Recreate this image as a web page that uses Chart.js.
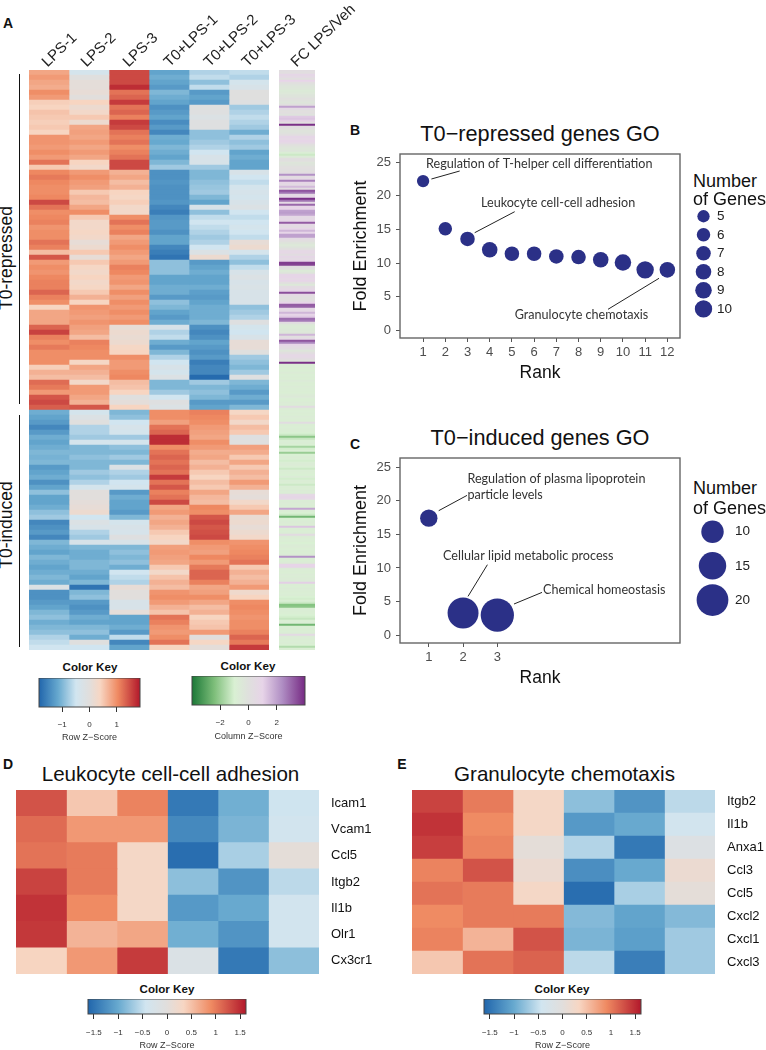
<!DOCTYPE html>
<html>
<head>
<meta charset="utf-8">
<script src="https://cdn.jsdelivr.net/npm/chart.js@4/dist/chart.umd.min.js"></script>
<style>
  body { margin: 0; background: #fff; width: 766px; height: 1050px; position: relative; overflow: hidden; font-family: "Liberation Sans", sans-serif; color: #111; }
  canvas { position: absolute; }
  .t { position: absolute; white-space: nowrap; line-height: 1; }
  .bar { position: absolute; background: #111; width: 1.5px; left: 18.5px; }
</style>
</head>
<body>
<script>
// panel A, one list per sample, 116 rows top to bottom
const lps1 = [.8,.9,.8,.75,1,.9,.45,.4,.55,.5,.45,.5,.4,.95,.95,.9,1,.9,1.2,.5,1.05,1.15,1.05,1,1,1.05,1.5,1.2,1,1.05,1.1,.95,
  1,1,1.2,1.1,.6,1.4,.9,1,.95,1.05,1.1,1.1,1.3,1.1,1,.4,.8,.8,.8,1.3,1.55,1.1,1,1.15,1,1,1,.45,.7,.6,1.25,1.15,.9,1.4,1.5,1.35,
  -1.1,-1.2,-1.3,-1.5,-1.3,-1.1,-1.2,-1.1,-1,-1.05,-1,-1.3,-1.2,-1.1,-1.4,-1.2,-.9,-1.2,-1.2,-1.1,-.9,-.8,-1.5,-1.4,-1.3,-1.5,-1,-1.1,-1.2,-1,-1.1,-1.2,-1.1,-1,-1.1,-.2,-1.4,-1.4,-1.3,-1.2,-1,-.9,-1.1,-1,-.9,-.7,-.6,-.5];
const lps2 = [-.4,-.05,.05,.05,.1,0,.4,.2,.3,.5,.2,.8,.85,.8,.9,.8,.9,.8,.4,.3,.9,1,.9,.85,.5,.65,.6,.8,1,.5,.3,.3,
  .35,.3,.1,.2,.5,.1,.5,.35,.3,.4,.3,.35,.5,.7,.4,.95,.9,.85,.95,.85,.8,.6,1.1,1.05,1,1,.35,.8,.7,.6,.3,.9,.9,.8,.7,1.4,
  -.4,-.2,-.05,-.7,-.7,-.8,-.4,-1,-1,-.9,-1,-1,-.8,-.9,-.7,-.4,0,0,.05,.1,.2,-.5,-.2,-.3,-.7,-.8,-.3,-1,-1.1,-1.1,-1,-1,-1.1,-1.2,-1,-1.7,-1,-.9,-1.3,-1.4,-1.3,-1.1,-1.2,-1,-.9,-1.1,-.05,-.5];
const lps3 = [1.5,1.5,1.5,1.7,1.2,1.3,1.6,1.2,1.3,1.1,1.6,1.5,1.2,1.1,1.2,1,1.1,1.2,1.5,1.5,.7,.8,.6,.7,.4,.35,.45,.3,.3,1,1.2,1,
  1.1,.8,.9,1,.9,.8,.9,1.1,1.05,.9,.95,.8,1,.85,1,.9,1,.9,1,.1,.2,.15,.2,.35,.4,1,.9,.9,1,1.05,.6,.55,.4,-.05,.05,.4,
  -1,-.9,-.5,-.35,-.4,-.8,-.4,-.9,-1,-.8,-1,-.2,-.7,-.8,-.5,-.4,-1.3,-1.1,-1.2,-1.2,-1.3,-1,-.4,-.3,-.35,-.1,-.3,-1,-.9,-1,-.9,-1.1,-.5,-.6,-.7,.1,0,0,-.3,-.3,.05,-1.2,-1.2,-1.1,-1.3,-.6,-1.5,-1.2];
const t0lps1 = [-1.2,-1.1,-1.2,-1.3,-1,-1.1,-1.2,-1.4,-1.3,-1.2,-1.45,-1.3,-1.5,-1.1,-1.15,-1,-1.1,-1.2,-1,-.8,-1.4,-1.4,-1.35,-1.4,-1.4,-1.4,-1.35,-1.5,-1.6,-1.35,-1.3,-1.3,
  -1.4,-1.2,-1.2,-1.5,-1.6,-1.7,-.9,-.9,-.9,-1.2,-1.2,-1.1,-1.1,-1.3,-.9,-1,-1.2,-1.3,-1.1,-.3,-.7,-.6,-1.1,-1.3,-1,-.7,-.5,-.3,-.4,-.2,-1,-1,-.8,-.5,-.1,-.2,
  1,1,.85,1.2,1.3,1.7,1.7,1,1.2,1.3,1.2,1.3,1.2,1.6,1.2,1.4,1.1,1.2,1.5,.8,.9,.7,.8,.7,.5,.4,.3,.85,.9,.85,.8,.5,.3,.55,.7,.6,.95,1,.9,.7,.55,1.2,1.1,.95,.9,1,1.2,.4];
const t0lps2 = [-.7,-.6,-.9,-.6,-1.3,-1.2,-1.3,-.05,-.1,-.2,-.1,-.1,-.9,-.9,-.8,-.7,-.5,-.3,-.3,-.8,-1,-1,-.9,-.85,-.8,-1,-1.2,-.3,-.9,-.6,-.5,-.6,
  -.7,-.8,-.7,-.5,-.2,.2,-1.3,-1.2,-1.1,-1.2,-1.2,-1.1,-1.25,-1.3,-1.2,-1.1,-1.1,-1.1,-1,-1.4,-1.5,-1.4,-1.2,-1.3,-1.4,-1.3,-1.6,-1.5,-1.5,-1.8,-.8,-1,-.9,-1,-1.3,-1.2,
  1.1,1.05,1,.9,.85,.8,1,.9,.75,.8,.6,.7,.5,.4,.6,.5,.8,.65,.6,1.05,1,1.4,1.5,1.4,1.45,1.5,1,.9,.85,1.05,.9,1.15,1.3,1.3,1.1,.8,.85,1,.8,.6,.7,.4,.5,.55,.9,0,.35,.05];
const t0lps3 = [-.6,-.7,-.4,-.3,-.05,-.05,-.1,-.8,-.7,-.6,-.7,-.8,-1.1,-.7,-.9,-.8,-1.2,-1.1,-1.2,-1.2,-.3,-.5,-.6,-.4,-.35,-.4,-.3,-.2,-.5,-.6,-.5,-.4,
  -.5,-.6,.1,.2,-.4,-.7,-.9,-.6,-.3,-.2,-.3,-.25,-.3,-.3,-.3,-.9,-.8,-.7,-.1,-.4,-.5,-.3,.1,.1,-.05,-.8,-.9,-1,-.8,-.1,-1,-1.1,-1.3,-1.1,-1.3,-1,
  .35,.5,.3,.6,.5,-.1,-.05,.85,.75,.5,.8,.5,.7,.6,.9,.7,.1,.05,.3,.5,.8,.15,.2,.1,.2,.3,.95,1,1.05,1.1,1.2,.5,.7,.6,.7,.9,.25,.4,1,1.05,1,.95,1,1,1.1,1.3,1.15,1.6];
// fold change column has thinner lines, 290 rows
const fcLpsVeh = [.3,.2,.8,.6,.1,1,.2,-.1,-.3,-.4, -.6,-.5,-.3,-.2,.1,-.1,-.3,.1,2,.5, .1,.2,-.1,1.2,1.3,1.1,.2,3.9,.3,.1,
  -.2,-.1,.2,.8,.7,.9,.7,.1,-.2,-.4, -.3,-.8,-1.2,-.6,.2,.1,-.3,-.2,.1,.2, .1,.3,2.3,.4,.6,2.6,.8,.5,1.5,.4,
  3.3,2.8,.5,.8,3.9,2.8,.6,3,.9,1, 2,2.1,1.9,.7,.6,.8,3.2,.7,.4,.9, 1.6,.9,2,2,.5,.2,-.2,-.5,-.3,.1,
  .6,.7,.3,.8,.5,.9,3.7,3.6,.3,.1, -.6,-.3,.8,.9,.7,.9,.2,-.5,.4,.6, .8,3.4,.6,.2,.1,.3,1,3.2,3.1,.7,
  .6,1.6,.9,1.2,2.9,2.7,.3,-.5,-.7,-.6, -.5,-.4,1.6,.2,.6,3.3,2.5,.9,.5,.3, -.3,.2,.6,.7,.4,-.2,3.9,-.8,-.8,-.9,
  -.9,-.7,-.9,-.8,-.9,-.6,-.8,-.9,-.7,-.8, -.8,-.9,-.7,-.5,-.8,-.9,-.7,-.8,.4,-.7, -.9,-.8,-.9,-.7,-.8,-.9,.3,-.8,-.9,-.8,
  -.9,-1,-1.2,-2.2,-1.3,-.9,-.8,-1,-1.8,-1.1, -.9,-2,-1,-.8,-.9,-1.1,-.8,-.7,-.9,-1.2, -.8,-.9,-1,-.7,-1.1,-.8,-.9,-1.2,-.8,-.9,
  -.7,-.8,.6,.8,.7,-.8,-.7,-.8,-.9,1.9, -.8,-1,-1.2,-2.6,-1,-.8,-.7,-.9,1.3,-.8, -.9,-.8,.4,-.7,-.9,-.8,-1,-.8,-.7,-.9,
  -.8,-.9,-.7,2.3,-.8,-.9,-.7,1,.9,-.7, -.8,-.9,-.7,-.8,-.7,-.6,1.1,-.8,-.9,-.7, -.8,-.9,-.8,-1,-1.1,-.9,-1.2,-2.3,-2.2,-.9,
  -.8,-.9,-1,-1.1,-1.3,-.9,-.8,-2.6,-.9,-.8, -.9,-.8,.5,-.7,-.8,-.9,-.8,-1,-1.6,-.9];

// panel B
const rankB = [1,2,3,4,5,6,7,8,9,10,11,12];
const enrichB = [22.2,15.1,13.6,12,11.4,11.4,11,10.9,10.5,10.1,9,9];
const genesB = [5,6,7,8,7,7,7,7,8,9,10,8];
const legendGenesB = [5,6,7,8,9,10];

// panel C
const rankC = [1,2,3];
const enrichC = [17.4,3.3,3];
const genesC = [6,19,22];
const legendGenesC = [10,15,20];

const enrichTicks = [0,5,10,15,20,25];

// panel D
const genesD = ["Icam1","Vcam1","Ccl5","Itgb2","Il1b","Olr1","Cx3cr1"];
const d1 = [1.25,1.1,1.05,1.35,1.45,1.42,.35];
const d2 = [.45,.8,1,1,.9,.6,.8];
const d3 = [.95,.8,.3,.3,.3,.7,1.4];
const d4 = [-1.45,-1.3,-1.55,-.8,-1.15,-.95,-.2];
const d5 = [-.95,-.9,-.65,-1.2,-1,-1.2,-1.45];
const d6 = [-.45,-.4,.05,-.55,-.4,-.4,-.8];

// panel E
const genesE = ["Itgb2","Il1b","Anxa1","Ccl3","Ccl5","Cxcl2","Cxcl1","Cxcl3"];
const e1 = [1.35,1.45,1.38,.95,1.05,.9,.95,.45];
const e2 = [1,.9,.95,1.25,1,1,.6,1.05];
const e3 = [.3,.3,.05,.15,.3,1,1.25,1.15];
const e4 = [-.8,-1.15,-.6,-1.25,-1.55,-.85,-.9,-.55];
const e5 = [-1.2,-1,-1.45,-1,-.65,-1.05,-1.1,-1.4];
const e6 = [-.55,-.4,-.15,.15,.05,-.85,-.7,-.7];

const keyTicksRow = [-1,0,1];
const keyTicksColumn = [-2,0,2];
const keyTicksGo = [-1.5,-1,-.5,0,.5,1,1.5];

// colour scales, stops are position (-1..1) and colour
const rdbuStops = [[-1,"#2166ac"],[-.62,"#67a9cf"],[-.27,"#d1e5f0"],[0,"#e1dedc"],[.21,"#f7d6c3"],[.56,"#ef8a62"],[1,"#b2182b"]];
const prgnStops = [[-1,"#1b7837"],[-.6,"#7fbf7b"],[-.25,"#d9f0d3"],[0,"#dfe0dd"],[.25,"#e7d4e8"],[.6,"#af8dc3"],[1,"#762a83"]];

const navy = "#2b3087";
const labelFont = "Lato";

function hex(c) { return [1,3,5].map(i => parseInt(c.substr(i,2),16)); }
function colorAt(stops, t) {
  t = Math.max(-1, Math.min(1, t));
  for (let i = 1; i < stops.length; i++) {
    if (t <= stops[i][0]) {
      const a = stops[i-1], b = stops[i];
      const f = (t - a[0]) / (b[0] - a[0]);
      const ca = hex(a[1]), cb = hex(b[1]);
      return "rgb(" + ca.map((v,k) => Math.round(v + (cb[k]-v)*f)).join(",") + ")";
    }
  }
  return stops[stops.length-1][1];
}

function text(str, x, y, size, opt) {
  opt = opt || {};
  const d = document.createElement("div");
  d.className = "t";
  d.textContent = str;
  d.style.left = x + "px";
  d.style.top = y + "px";
  d.style.fontSize = size + "px";
  if (opt.bold) d.style.fontWeight = "bold";
  if (opt.color) d.style.color = opt.color;
  d.style.transform = opt.transform || "translate(-50%,-50%)";
  if (opt.origin) d.style.transformOrigin = opt.origin;
  document.body.appendChild(d);
}

function makeCanvas(left, top, w, h) {
  const c = document.createElement("canvas");
  c.width = w; c.height = h;
  c.style.left = left + "px"; c.style.top = top + "px";
  c.style.width = w + "px"; c.style.height = h + "px";
  document.body.appendChild(c);
  return c.getContext("2d");
}

// heatmap: stacked horizontal bars, one dataset per column, each cell one unit wide
function heatmap(box, rows, columns, stops, zMax, tickWidth, soft) {
  const ctx = makeCanvas(box[0], box[1], box[2], box[3]);
  if (soft) ctx.canvas.style.filter = "blur(0.7px)";
  new Chart(ctx, {
    type: "bar",
    data: {
      labels: rows,
      datasets: columns.map(col => ({
        data: col.map(() => 1),
        backgroundColor: col.map(z => colorAt(stops, z / zMax)),
        borderWidth: 0,
        barPercentage: 1,
        categoryPercentage: 1
      }))
    },
    options: {
      indexAxis: "y",
      responsive: false,
      animation: false,
      plugins: { legend: { display: false }, tooltip: { enabled: false } },
      scales: {
        x: { display: false, stacked: true, min: 0, max: columns.length },
        y: {
          display: tickWidth > 0,
          stacked: true,
          position: "right",
          grid: { display: false, drawTicks: false },
          border: { display: false },
          ticks: { color: "#111", font: { size: 13, family: "Liberation Sans" }, padding: 12, autoSkip: false },
          afterFit: s => { s.width = tickWidth; s.paddingTop = 0; s.paddingBottom = 0; }
        }
      }
    }
  });
}

// colour key: one floating bar with a gradient, real x axis below
function colorKey(box, stops, zMax, ticks, title) {
  const h = box[3], barH = box[4];
  new Chart(makeCanvas(box[0], box[1], box[2], h), {
    type: "bar",
    data: {
      labels: ["key"],
      datasets: [{
        data: [[-zMax, zMax]],
        barPercentage: 1,
        categoryPercentage: 1,
        borderSkipped: false,
        backgroundColor: ctx => {
          const a = ctx.chart.chartArea;
          if (!a) return stops[0][1];
          const g = ctx.chart.ctx.createLinearGradient(a.left, 0, a.right, 0);
          stops.forEach(s => g.addColorStop((s[0] + 1) / 2, s[1]));
          return g;
        }
      }]
    },
    options: {
      indexAxis: "y",
      responsive: false,
      animation: false,
      layout: { padding: { left: 10, right: 10 } },
      plugins: { legend: { display: false }, tooltip: { enabled: false } },
      scales: {
        y: { display: false },
        x: {
          min: -zMax, max: zMax,
          afterBuildTicks: ax => { ax.ticks = ticks.map(v => ({ value: v })); },
          afterFit: s => { s.height = h - barH; s.paddingLeft = 0; s.paddingRight = 0; },
          grid: { drawOnChartArea: false, tickLength: 5, color: "#333", tickWidth: 1 },
          border: { display: false },
          ticks: {
            autoSkip: false, maxRotation: 0, padding: box[5], color: "#333",
            font: { size: 8, family: "Liberation Sans" },
            callback: v => String(v).replace("-", "\u2212")
          },
          title: { display: true, text: title, color: "#333", padding: 0, font: { size: 9, family: "Liberation Sans" } }
        }
      }
    },
    plugins: [{
      id: "keyFrame",
      afterDraw(chart) {
        const a = chart.chartArea, c = chart.ctx;
        c.save(); c.strokeStyle = "#444"; c.lineWidth = 1;
        c.strokeRect(a.left, a.top, a.right - a.left, a.bottom - a.top);
        c.restore();
      }
    }]
  });
}

// labels drawn inside the plot, offsets from the top left of the frame
const annotatePlugin = {
  id: "notes",
  afterDraw(chart, args, opts) {
    const a = chart.chartArea, c = chart.ctx;
    c.save();
    c.strokeStyle = "#666"; c.lineWidth = 1.4;
    c.strokeRect(a.left, a.top, a.right - a.left, a.bottom - a.top);
    c.strokeStyle = "#222"; c.lineWidth = 1;
    c.fillStyle = "#333"; c.font = "12.6px " + labelFont; c.textBaseline = "middle";
    (opts.notes || []).forEach(n => {
      c.fillText(n.text, a.left + n.at[0], a.top + n.at[1]);
      if (n.line) {
        c.beginPath();
        c.moveTo(a.left + n.line[0], a.top + n.line[1]);
        c.lineTo(a.left + n.line[2], a.top + n.line[3]);
        c.stroke();
      }
    });
    c.restore();
  }
};

function bubblePlot(box, ranks, enrich, genes, radius, xRange, yRange, xTicks, notes) {
  const h = box[3], axisH = box[4];
  new Chart(makeCanvas(box[0], box[1], box[2], h), {
    type: "bubble",
    data: {
      datasets: [{
        data: ranks.map((x, i) => ({ x: x, y: enrich[i], r: radius(genes[i]) })),
        backgroundColor: navy,
        borderWidth: 0,
        clip: false
      }]
    },
    options: {
      responsive: false,
      animation: false,
      layout: { autoPadding: false, padding: { top: 4, right: 4 } },
      plugins: { legend: { display: false }, tooltip: { enabled: false }, notes: { notes: notes } },
      scales: {
        x: {
          type: "linear", min: xRange[0], max: xRange[1],
          afterBuildTicks: ax => { ax.ticks = xTicks.map(v => ({ value: v })); },
          afterFit: s => { s.height = axisH; s.paddingLeft = 0; s.paddingRight = 0; },
          grid: { drawOnChartArea: false, tickLength: 4, color: "#555" },
          border: { display: false },
          ticks: { autoSkip: false, maxRotation: 0, padding: 3, color: "#4d4d4d", font: { size: 13, family: "Liberation Sans" } },
          title: { display: true, text: "Rank", color: "#111", padding: 0, font: { size: 17.5, family: "Liberation Sans" } }
        },
        y: {
          min: yRange[0], max: yRange[1],
          afterBuildTicks: ax => { ax.ticks = enrichTicks.map(v => ({ value: v })); },
          afterFit: s => { s.width = 50; s.paddingTop = 0; s.paddingBottom = 0; },
          grid: { drawOnChartArea: false, tickLength: 4, color: "#555" },
          border: { display: false },
          ticks: { autoSkip: false, padding: 5, color: "#4d4d4d", font: { size: 13, family: "Liberation Sans" } },
          title: { display: true, text: "Fold Enrichment", color: "#111", padding: 0, font: { size: 18, family: "Liberation Sans" } }
        }
      }
    },
    plugins: [annotatePlugin]
  });
}

function sizeLegend(box, genes, radius, yRange, chartW, pad) {
  new Chart(makeCanvas(box[0], box[1], box[2], box[3]), {
    type: "bubble",
    data: {
      datasets: [{
        data: genes.map(g => ({ x: 0, y: g, r: radius(g) })),
        backgroundColor: navy,
        borderWidth: 0,
        clip: false
      }]
    },
    options: {
      responsive: false,
      animation: false,
      layout: { autoPadding: false },
      plugins: { legend: { display: false }, tooltip: { enabled: false } },
      scales: {
        x: { display: false, min: -1, max: 1 },
        y: {
          position: "right", reverse: true, min: yRange[0], max: yRange[1],
          afterBuildTicks: ax => { ax.ticks = genes.map(v => ({ value: v })); },
          afterFit: s => { s.width = box[2] - chartW; s.paddingTop = 0; s.paddingBottom = 0; },
          grid: { display: false, drawTicks: false },
          border: { display: false },
          ticks: { autoSkip: false, padding: pad, color: "#222", font: { size: 13.5, family: "Liberation Sans" } }
        }
      }
    }
  });
}

// panel A
const rowIds = lps1.map((v, i) => "r" + i);
heatmap([29, 70, 240, 580], rowIds, [lps1, lps2, lps3, t0lps1, t0lps2, t0lps3], rdbuStops, 1.85, 0, true);
heatmap([279, 70, 36, 580], fcLpsVeh.map((v, i) => "f" + i), [fcLpsVeh], prgnStops, 4, 0, true);
colorKey([29, 678, 121, 65, 29, 8], rdbuStops, 1.85, keyTicksRow, "Row Z\u2212Score");
colorKey([182, 676, 133, 66, 29, 8], prgnStops, 4, keyTicksColumn, "Column Z\u2212Score");

// panel B
bubblePlot([350, 150, 334, 234, 46], rankB, enrichB, genesB, g => 2.75 * Math.sqrt(g),
  [-0.04, 12.57], [-1.13, 26.23], rankB, [
    { text: "Regulation of T-helper cell differentiation", at: [26, 9.5], line: [31.4, 25, 59.7, 17] },
    { text: "Leukocyte cell-cell adhesion", at: [81, 49], line: [74.7, 78.7, 114.7, 57.7] },
    { text: "Granulocyte chemotaxis", at: [114.7, 161], line: [208, 155.3, 259, 124.3] }
  ]);
sizeLegend([690, 207, 72, 113], legendGenesB, g => 2.75 * Math.sqrt(g), [4.5, 10.6], 27, 0);

// panel C
bubblePlot([350, 454, 334, 235, 46], rankC, enrichC, genesC, g => 3.55 * Math.sqrt(g),
  [0.16, 8.33], [-1.15, 26.34], rankC, [
    { text: "Regulation of plasma lipoprotein", at: [67.4, 21] },
    { text: "particle levels", at: [67.4, 37], line: [38.7, 52.7, 67, 37.4] },
    { text: "Cellular lipid metabolic process", at: [43, 97.7], line: [68, 138.4, 87.4, 106.7] },
    { text: "Chemical homeostasis", at: [143, 131.7], line: [114, 146, 142, 134.4] }
  ]);
sizeLegend([695, 505, 70, 120], legendGenesC, g => 3.55 * Math.sqrt(g), [6.09, 23.66], 35, 5);

// panels D and E
heatmap([16, 790, 373, 184], genesD, [d1, d2, d3, d4, d5, d6], rdbuStops, 1.62, 70);
heatmap([412, 790, 354, 184], genesE, [e1, e2, e3, e4, e5, e6], rdbuStops, 1.62, 51);
colorKey([78, 999, 178, 52, 15, 9], rdbuStops, 1.62, keyTicksGo, "Row Z\u2212Score");
colorKey([474, 999, 177, 52, 15, 9], rdbuStops, 1.62, keyTicksGo, "Row Z\u2212Score");

// everything around the plots
text("A", 8, 23, 14, { bold: true });
text("B", 355, 130, 14, { bold: true });
text("C", 355, 444, 14, { bold: true });
text("D", 8, 764, 14, { bold: true });
text("E", 402, 764, 14, { bold: true });

const sampleLabels = ["LPS-1","LPS-2","LPS-3","T0+LPS-1","T0+LPS-2","T0+LPS-3","FC LPS/Veh"];
const sampleLabelX = [49,88,130,171,211,249,298];
sampleLabels.forEach((s, i) => text(s, sampleLabelX[i], 69, 15, { transform: "translateY(-100%) rotate(-44deg)", origin: "0 100%", color: "#222" }));

text("T0-repressed", 7, 258, 17.5, { transform: "translate(-50%,-50%) rotate(-90deg)" });
text("T0-induced", 7, 525, 17.5, { transform: "translate(-50%,-50%) rotate(-90deg)" });
[[74, 330], [415, 232]].forEach(b => {
  const d = document.createElement("div");
  d.className = "bar";
  d.style.top = b[0] + "px";
  d.style.height = b[1] + "px";
  document.body.appendChild(d);
});

text("Color Key", 90, 667, 11.6, { bold: true });
text("Color Key", 248, 666, 11.6, { bold: true });
text("Color Key", 167, 989, 11.6, { bold: true });
text("Color Key", 562, 989, 11.6, { bold: true });

text("T0\u2212repressed genes GO", 540, 134, 21.7);
text("T0\u2212induced genes GO", 540, 438, 21.7);
text("Leukocyte cell-cell adhesion", 170.5, 774, 20.6);
text("Granulocyte chemotaxis", 564.5, 774, 20.6);

text("Number", 693, 181, 18, { transform: "translateY(-50%)" });
text("of Genes", 693, 199, 18, { transform: "translateY(-50%)" });
text("Number", 693, 488, 18, { transform: "translateY(-50%)" });
text("of Genes", 693, 508, 18, { transform: "translateY(-50%)" });
</script>
</body>
</html>
